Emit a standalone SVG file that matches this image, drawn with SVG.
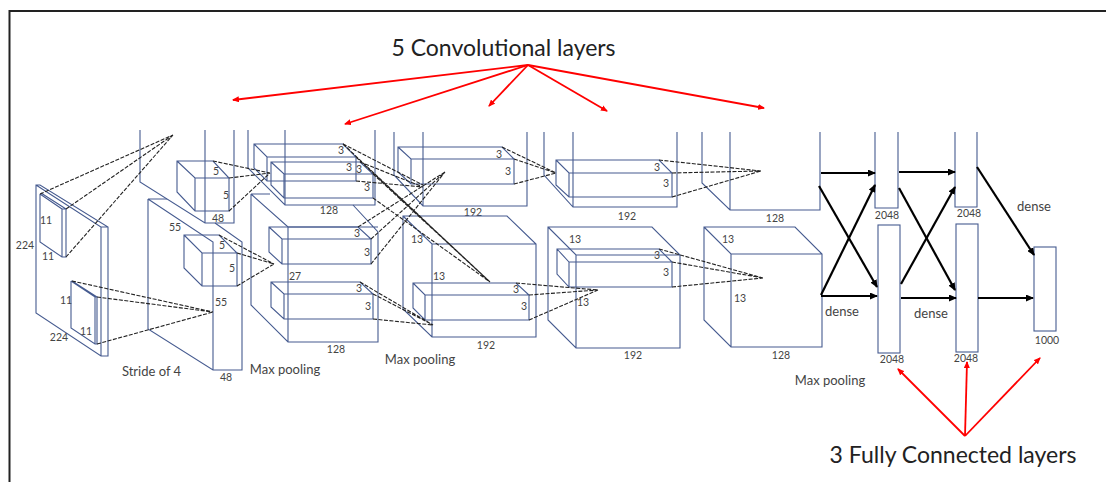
<svg xmlns="http://www.w3.org/2000/svg" width="1106" height="482" viewBox="0 0 1106 482">
<style>
.b{fill:none;stroke:#465b90;stroke-width:1.1}
.d{fill:none;stroke:#222;stroke-width:1.1;stroke-dasharray:4 1.500}
.k{fill:none;stroke:#000;stroke-width:2.200;marker-end:url(#ak)}
.r{fill:none;stroke:#f00;stroke-width:1.800;marker-end:url(#ar)}
text{font-family:Lato,"Open Sans","Liberation Sans",sans-serif;fill:#444;text-anchor:middle;dominant-baseline:central}
.s{font-size:10.500px}
.m{font-size:13px}
.t{font-size:23px;fill:#222}
</style>
<defs>
<marker id="ak" markerUnits="userSpaceOnUse" markerWidth="8" markerHeight="7" refX="7" refY="3.500" orient="auto"><path d="M0 0L8 3.500L0 7Z" fill="#000"/></marker>
<marker id="ar" markerUnits="userSpaceOnUse" markerWidth="7" markerHeight="6" refX="6" refY="3" orient="auto"><path d="M0 0L7 3L0 6Z" fill="#f00"/></marker>
</defs>
<rect width="1106" height="482" fill="#fff"/>
<path d="M9.500 482V11H1106" fill="none" stroke="#222" stroke-width="2"/>

<g id="input">
<path class="b" d="M36 185H40L108 227V356H101L36 313ZM36 185L101 227V356M101 227H108"/>
<path class="b" d="M40 194V242L62 257H66V209H62L40 194L62 209V257M41 193L66 209"/>
<path class="b" d="M71 281V328L95 344H97V297H95L71 281M95 297V344M72 281L97 297"/>
<text class="s" x="46" y="220">11</text><text class="s" x="48" y="256">11</text><text class="s" x="25" y="245">224</text>
<text class="s" x="66" y="300">11</text><text class="s" x="86" y="331">11</text><text class="s" x="59" y="337">224</text>
</g>
<g id="conv1-top">
<path class="b" d="M140 130V182L205 223H234V130M205 130V223"/>
<path class="b" d="M177 161H213L229 178V211H195L177 192ZM177 161L195 178H229M195 178V211"/>
<text class="s" x="216" y="171">5</text><text class="s" x="226" y="195">5</text><text class="s" x="218" y="218">48</text>
</g>
<g id="conv1-bottom">
<path class="b" d="M148 199V329L213 370H242V242L215 223M148 199H167M148 199L213 242V370"/>
<path class="b" d="M184 235H219L237 253V286H202L184 268ZM184 235L202 253H237M202 253V286"/>
<text class="s" x="175" y="227">55</text><text class="s" x="222" y="245">5</text><text class="s" x="232" y="268">5</text><text class="s" x="221" y="302">55</text><text class="s" x="226" y="377">48</text>
</g>
<g id="conv2-top">
<path class="b" d="M248 130V168L285 205H375V130M285 130V205"/>
<path class="b" d="M254 144H343L356 157V181H267L254 168ZM254 144L267 157H356M267 157V181"/>
<path class="b" d="M271 162H360L373 174V198H284L271 185ZM271 162L284 174H373M284 174V198"/>
<text class="s" x="341" y="150">3</text><text class="s" x="349" y="167">3</text><text class="s" x="359" y="169">3</text><text class="s" x="367" y="187">3</text><text class="s" x="329" y="210">128</text>
</g>
<g id="conv2-bottom">
<path class="b" d="M251 194V305L288 342H378V232L353 205M251 194H270M251 194L288 227H378M288 227V342"/>
<path class="b" d="M269 227H358L371 239V264H282L269 252ZM269 227L282 239H371M282 239V264"/>
<path class="b" d="M271 282H360L373 294V319H284L271 307ZM271 282L284 294H373M284 294V319"/>
<text class="s" x="357" y="233">3</text><text class="s" x="367" y="252">3</text><text class="s" x="295" y="276">27</text><text class="s" x="359" y="288">3</text><text class="s" x="368" y="306">3</text><text class="s" x="336" y="349">128</text>
</g>
<g id="conv3-top">
<path class="b" d="M394 132V175L423 206H527V132M423 132V206"/>
<path class="b" d="M398 147H502L514 159V184H411L398 172ZM398 147L411 159H514M411 159V184"/>
<text class="s" x="499" y="154">3</text><text class="s" x="508" y="171">3</text><text class="s" x="473" y="212">192</text>
</g>
<g id="conv3-bottom">
<path class="b" d="M403 216H507L536 244V337H432L403 309ZM403 216L432 244H536M432 244V337"/>
<path class="b" d="M413 283H516L529 295V320H425L413 308ZM413 283L425 295H529M425 295V320"/>
<text class="s" x="417" y="239">13</text><text class="s" x="439" y="276">13</text><text class="s" x="516" y="289">3</text><text class="s" x="524" y="306">3</text><text class="s" x="486" y="345">192</text>
</g>
<g id="conv4-top">
<path class="b" d="M544 132V175L573 207H677V132M573 132V207"/>
<path class="b" d="M556 160H659L672 173V197H569L556 185ZM556 160L569 173H672M569 173V197"/>
<text class="s" x="657" y="167">3</text><text class="s" x="666" y="183">3</text><text class="s" x="627" y="216">192</text>
</g>
<g id="conv4-bottom">
<path class="b" d="M548 227H652L680 255V348H576L548 320ZM548 227L576 255H680M576 255V348"/>
<path class="b" d="M557 249H659L672 262V287H569L557 274ZM557 249L569 262H672M569 262V287"/>
<text class="s" x="575" y="239">13</text><text class="s" x="657" y="255">3</text><text class="s" x="666" y="272">3</text><text class="s" x="583" y="302">13</text><text class="s" x="633" y="355">192</text>
</g>
<g id="conv5-top">
<path class="b" d="M702 132V183L730 210H820V132M730 132V210"/>
<text class="s" x="775" y="218">128</text>
</g>
<g id="conv5-bottom">
<path class="b" d="M704 227H795L822 254V347H731L704 320ZM704 227L731 254H822M731 254V347"/>
<text class="s" x="728" y="239">13</text><text class="s" x="740" y="298">13</text><text class="s" x="781" y="355">128</text>
</g>
<g id="fc1-top"><path class="b" d="M875 132V208H898V132"/><text class="s" x="887" y="215">2048</text></g>
<g id="fc1-bottom"><rect class="b" x="878" y="225" width="22" height="128"/><text class="s" x="892" y="359">2048</text></g>
<g id="fc2-top"><path class="b" d="M955 132V207H977V132"/><text class="s" x="969" y="213">2048</text></g>
<g id="fc2-bottom"><rect class="b" x="956" y="224" width="22" height="128"/><text class="s" x="966" y="358">2048</text></g>
<g id="output"><rect class="b" x="1034" y="247" width="22" height="84"/><text class="s" x="1047" y="340">1000</text></g>

<g id="connectors">
<path class="d" d="M40 194L173 135M66 209L173 135M66 257L173 135"/>
<path class="d" d="M72 281L213 312M97 297L213 312M97 344L213 312"/>
<path class="d" d="M213 161L270 173M229 178L270 173M229 211L270 173"/>
<path class="d" d="M219 235L274 264M237 253L274 264M237 286L274 264"/>
<path class="d" d="M343 144L490 282M356 157L490 282M356 181L423 187M343 144L423 185M360 162L423 187M373 174L490 282M373 198L490 282"/>
<path class="d" d="M358 227L445 172M371 239L445 172M371 264L445 172"/>
<path class="d" d="M360 282L433 325M373 294L433 325M373 319L433 325"/>
<path class="d" d="M502 147L556 173M514 159L556 173M514 184L556 173"/>
<path class="d" d="M516 283L598 290M529 295L598 290M529 320L598 290"/>
<path class="d" d="M659 160L761 171M672 173L761 171M672 197L761 171"/>
<path class="d" d="M659 249L763 278M672 262L763 278M672 287L763 278"/>
<path class="k" d="M821 173H875"/><path class="k" d="M819 186L877 287"/><path class="k" d="M821 295L875 185"/><path class="k" d="M821 296H877"/>
<path class="k" d="M899 172H955"/><path class="k" d="M899 188L955 290"/><path class="k" d="M901 284L955 187"/><path class="k" d="M901 298H956"/>
<path class="k" d="M977 167L1034 255"/><path class="k" d="M978 298H1033"/>
<path class="r" d="M528 65L233 100"/><path class="r" d="M528 65L345 124"/><path class="r" d="M528 65L489 106"/><path class="r" d="M528 65L607 111"/><path class="r" d="M528 65L764 108"/>
<path class="r" d="M965 436L898 369"/><path class="r" d="M965 436L967 362"/><path class="r" d="M965 436L1040 358"/>
</g>

<g id="labels">
<text class="t" x="503.500" y="47">5 Convolutional layers</text>
<text class="t" x="953" y="454">3 Fully Connected layers</text>
<text class="m" x="151.500" y="371">Stride of 4</text>
<text class="m" x="285" y="369">Max pooling</text>
<text class="m" x="420" y="359">Max pooling</text>
<text class="m" x="830" y="380">Max pooling</text>
<text class="m" x="1034" y="206">dense</text>
<text class="m" x="842" y="311">dense</text>
<text class="m" x="931" y="313">dense</text>
</g>
</svg>
